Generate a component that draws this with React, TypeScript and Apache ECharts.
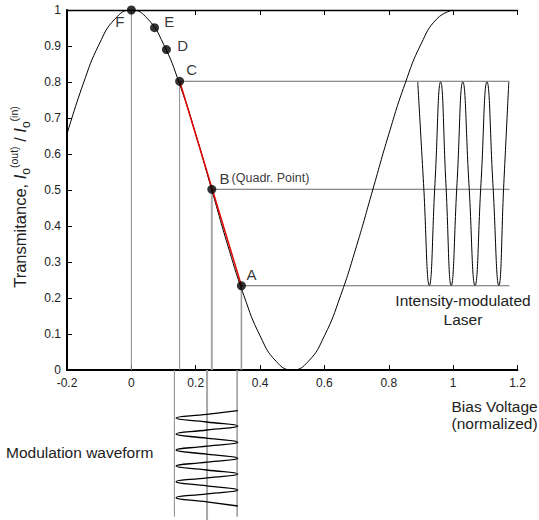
import React, { useEffect, useRef } from 'react';
import * as echarts from 'echarts';

// Transfer curve (bias voltage, transmittance)
const biasVoltage = [-0.2, -0.15, -0.1, -0.05, 0, 0.05, 0.1, 0.15, 0.2, 0.25, 0.3, 0.35, 0.4, 0.45, 0.5, 0.55, 0.6, 0.65, 0.7, 0.75, 0.8, 0.85, 0.9, 0.95, 1.0];
const transmittance = [0.655, 0.794, 0.905, 0.976, 1.0, 0.976, 0.905, 0.794, 0.655, 0.5, 0.345, 0.206, 0.095, 0.024, 0.0, 0.024, 0.095, 0.206, 0.345, 0.5, 0.655, 0.794, 0.905, 0.976, 1.0];

// Operating points
const pointLabels = ['A', 'B', 'C', 'D', 'E', 'F'];
const pointX = [0.342, 0.25, 0.15, 0.109, 0.072, 0];
const pointY = [0.234, 0.502, 0.802, 0.89, 0.951, 1.0];

// Intensity-modulated laser output (x position, intensity)
const laserX = [0.89, 0.908, 0.926, 0.9435, 0.961, 0.9775, 0.994, 1.012, 1.03, 1.049, 1.068, 1.0865, 1.105, 1.1235, 1.142, 1.1575, 1.173];
const laserY = [0.8, 0.518, 0.235, 0.518, 0.8, 0.518, 0.235, 0.518, 0.8, 0.518, 0.235, 0.518, 0.8, 0.518, 0.235, 0.518, 0.8];

// Modulation waveform (bias swing, time going down)
const modX = [0.344, 0.2495, 0.155, 0.2495, 0.344, 0.2495, 0.155, 0.2495, 0.344, 0.2495, 0.155, 0.2495, 0.344, 0.2495, 0.155, 0.2495, 0.344, 0.2495, 0.155, 0.2495, 0.344, 0.2495, 0.155, 0.2495, 0.344];
const modT = [40.7, 44.4, 48, 52, 56, 60, 64, 68.2, 72.3, 76.2, 80, 84.2, 88.3, 92.2, 96, 100, 104, 107.9, 111.7, 115.9, 120, 123.9, 127.7, 131.9, 136];

// Guide lines
const guideVX = [0, 0.15, 0.25, 0.342];
const guideVTop = [1.0, 0.802, 0.502, 0.234];
const guideVBelow = [0, 146.7, 150, 146.7];
const guideHY = [0.802, 0.502, 0.234];
const guideHStart = [0.15, 0.25, 0.342];
const guideHEnd = 1.175;

const xTicks = { min: -0.2, max: 1.2, interval: 0.2 };
const yTicks = { min: 0, max: 1, interval: 0.1 };

const FONT = '"Liberation Sans", Arial, Helvetica, sans-serif';

export default function App() {
  const ref = useRef<HTMLDivElement>(null);
  useEffect(() => {
    const chart = echarts.init(ref.current!, null, { renderer: 'svg' });
    const zip = (a: number[], b: number[]) => a.map((v, i) => [v, b[i]]);
    const series: any[] = [];
    const vColors = ['#8a8a8a', '#8a8a8a', '#a8a8a8', '#999'];
    const vWidths = [1, 1, 2, 1.5];
    guideVX.forEach((x, i) => {
      series.push({
        type: 'line', xAxisIndex: 0, yAxisIndex: 0, showSymbol: false, silent: true, z: 1,
        data: [[x, 0], [x, guideVTop[i]]],
        lineStyle: { color: vColors[i], width: vWidths[i] },
      });
      if (guideVBelow[i] > 0) {
        series.push({
          type: 'line', xAxisIndex: 2, yAxisIndex: 1, showSymbol: false, silent: true, z: 1,
          data: [[x, 0], [x, guideVBelow[i]]],
          lineStyle: { color: vColors[i], width: vWidths[i] },
        });
      }
    });
    guideHY.forEach((y, i) => {
      series.push({
        type: 'line', xAxisIndex: 0, yAxisIndex: 0, showSymbol: false, silent: true, z: 1,
        data: [[guideHStart[i], y], [guideHEnd, y]],
        lineStyle: { color: '#6a6a6a', width: 1 },
      });
    });
    series.push({
      type: 'line', xAxisIndex: 0, yAxisIndex: 0, showSymbol: false, smooth: 0.5, z: 3,
      data: zip(biasVoltage, transmittance),
      lineStyle: { color: '#000', width: 1 },
    });
    series.push({
      type: 'line', xAxisIndex: 0, yAxisIndex: 0, showSymbol: false, z: 4,
      data: [[pointX[2], pointY[2]], [pointX[0], pointY[0]]],
      lineStyle: { color: '#e00000', width: 1.5 },
    });
    series.push({
      type: 'line', xAxisIndex: 0, yAxisIndex: 0, showSymbol: false, smooth: 0.5, z: 3,
      data: zip(laserX, laserY),
      lineStyle: { color: '#000', width: 1 },
    });
    series.push({
      type: 'line', xAxisIndex: 2, yAxisIndex: 1, showSymbol: false, smooth: 0.5, z: 3,
      data: zip(modX, modT),
      lineStyle: { color: '#000', width: 1.3 },
    });
    const labelPos: number[][] = [
      [9.5, -7.2], [12.3, -6.5], [11.2, -7], [15.2, 0.5], [14.1, -1.2], [-2.5, 16.2],
    ];
    series.push({
      type: 'scatter', xAxisIndex: 0, yAxisIndex: 0, symbol: 'circle', symbolSize: 9, z: 6,
      itemStyle: { color: '#000' },
      data: pointX.map((x, i) => ({
        value: [x, pointY[i]],
        label: {
          show: true, position: labelPos[i], align: i === 5 ? 'right' : 'left', verticalAlign: 'middle',
          formatter: i === 1 ? '{b|B}{s|(Quadr. Point)}' : pointLabels[i],
        },
      })),
      label: {
        show: true, fontSize: 15, fontFamily: FONT, color: '#000',
        rich: {
          b: { fontSize: 15, fontFamily: FONT, color: '#000', padding: [0, 2, 0, 0] },
          s: { fontSize: 12.5, fontFamily: FONT, color: '#000' },
        },
      },
    });

    const axisLabel = { fontSize: 12, fontFamily: FONT, color: '#222', margin: 6 };
    const option: any = {
      animation: false,
      textStyle: { fontFamily: FONT },
      grid: [
        { left: 60, right: 21.5, top: 10, bottom: 150 },
        { left: 60, right: 21.5, top: 370, bottom: 0 },
      ],
      xAxis: [
        {
          gridIndex: 0, type: 'value', position: 'bottom', ...xTicks,
          axisLine: { show: true, onZero: false, lineStyle: { color: '#000', width: 2 } },
          axisTick: { show: true, inside: true, length: 5, lineStyle: { color: '#000', width: 1 } },
          axisLabel: { ...axisLabel, margin: 7 },
          splitLine: { show: false },
        },
        {
          gridIndex: 0, type: 'value', position: 'top', ...xTicks,
          axisLine: { show: true, onZero: false, lineStyle: { color: '#000', width: 1.3 } },
          axisTick: { show: true, inside: true, length: 5, lineStyle: { color: '#000', width: 1 } },
          axisLabel: { show: false },
          splitLine: { show: false },
        },
        { gridIndex: 1, type: 'value', ...xTicks, show: false },
      ],
      yAxis: [
        {
          gridIndex: 0, type: 'value', position: 'left', ...yTicks,
          axisLine: { show: true, onZero: false, lineStyle: { color: '#000', width: 2 } },
          axisTick: { show: true, inside: true, length: 5, lineStyle: { color: '#000', width: 1 } },
          axisLabel,
          splitLine: { show: false },
          name: '{n|Transmitance, }{i|I}{sub|o}{sup|(out)}{n| / }{i|I}{sub|o}{sup|(in)}',
          nameLocation: 'middle',
          nameRotate: 90,
          nameGap: 35,
          nameTextStyle: {
            fontSize: 16.5, fontFamily: FONT, color: '#222', padding: [0, 14, 0, 0],
            rich: {
              n: { fontSize: 16.5, fontFamily: FONT, color: '#222', lineHeight: 24 },
              i: { fontSize: 16.5, fontFamily: FONT, fontStyle: 'italic', color: '#222', lineHeight: 24 },
              sub: { fontSize: 12, fontFamily: FONT, color: '#222', lineHeight: 13, verticalAlign: 'bottom' },
              sup: { fontSize: 10.5, fontFamily: FONT, color: '#222', lineHeight: 12, verticalAlign: 'top' },
            },
          },
        },
        { gridIndex: 1, type: 'value', min: 0, max: 150, inverse: true, show: false },
      ],
      graphic: [
        {
          type: 'text', x: 463, y: 291, z: 10,
          style: {
            text: 'Intensity-modulated\nLaser', fontSize: 15.5, fontFamily: FONT, fill: '#222',
            align: 'center', textAlign: 'center', verticalAlign: 'top', textVerticalAlign: 'top', lineHeight: 19,
          },
        },
        {
          type: 'text', x: 451.5, y: 397.5, z: 10,
          style: {
            text: 'Bias Voltage\n(normalized)', fontSize: 15.5, fontFamily: FONT, fill: '#222',
            align: 'left', textAlign: 'left', verticalAlign: 'top', textVerticalAlign: 'top', lineHeight: 17.5,
          },
        },
        {
          type: 'text', x: 6, y: 452, z: 10,
          style: {
            text: 'Modulation waveform', fontSize: 15.5, fontFamily: FONT, fill: '#222',
            align: 'left', textAlign: 'left', verticalAlign: 'middle', textVerticalAlign: 'middle',
          },
        },
      ],
      series,
    };
    chart.setOption(option);
    return () => chart.dispose();
  }, []);
  return <div ref={ref} style={{ position: 'absolute', left: 0, top: 0, width: 539, height: 520 }} />;
}
